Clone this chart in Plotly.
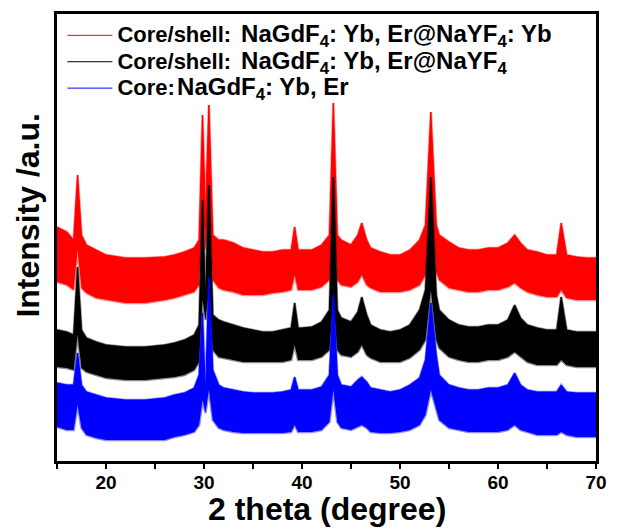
import plotly.graph_objects as go

# 2-theta sample positions (degree)
two_theta = [15, 16, 16.7, 17.1, 17.5, 18, 19, 20, 22, 24, 26, 27, 28, 29, 29.5, 29.85, 30.15, 30.5, 30.9,
             31.5, 32, 33, 34, 35, 36, 37, 38, 38.9, 39.25, 39.6, 40, 41, 42, 42.8, 43.2, 43.6, 44, 45,
             45.7, 46.1, 46.6, 47, 48, 49, 50, 51, 52, 52.6, 53.15, 53.7, 54, 55, 56, 57, 58, 59, 60, 61,
             61.7, 62.3, 63, 64, 65, 66, 66.45, 67, 68, 69, 70]

# Core/shell NaGdF4:Yb,Er@NaYF4:Yb (red) - upper / lower edge of noisy pattern (a.u.)
red_upper = [234, 229, 221, 286, 226, 216, 211, 206, 203, 203, 204, 206, 209, 213, 221, 346, 246, 356, 226,
             221, 221, 218, 213, 211, 209, 209, 211, 211, 234, 211, 211, 211, 216, 226, 358, 226, 221, 216,
             226, 238, 221, 213, 209, 206, 206, 211, 221, 236, 349, 236, 226, 219, 213, 211, 211, 213, 213, 218,
             226, 218, 211, 209, 206, 206, 238, 206, 204, 203, 203]
red_lower = [179, 176, 171, 211, 173, 168, 163, 161, 158, 158, 161, 163, 166, 169, 176, 261, 211, 261, 181,
             173, 171, 169, 166, 166, 166, 168, 169, 171, 186, 171, 171, 171, 174, 181, 261, 181, 176, 174,
             179, 186, 176, 173, 169, 169, 169, 171, 176, 186, 261, 189, 181, 173, 171, 169, 169, 171, 171, 174,
             178, 173, 169, 166, 164, 164, 171, 163, 161, 161, 161]

# Core/shell NaGdF4:Yb,Er@NaYF4 (black)
black_upper = [131, 129, 126, 194, 131, 123, 119, 116, 114, 114, 116, 118, 121, 126, 136, 261, 161, 276, 146,
               141, 139, 136, 133, 131, 129, 129, 131, 133, 158, 133, 133, 134, 139, 151, 284, 151, 143, 139,
               149, 164, 146, 136, 131, 129, 131, 136, 151, 171, 284, 166, 151, 141, 136, 134, 134, 136, 136, 141,
               156, 143, 136, 133, 131, 131, 164, 131, 129, 129, 129]
black_lower = [94, 93, 91, 126, 93, 89, 86, 83, 81, 81, 83, 84, 86, 91, 99, 161, 141, 171, 111,
               104, 103, 101, 99, 99, 99, 99, 99, 101, 116, 101, 101, 101, 104, 111, 161, 111, 106, 104,
               109, 116, 106, 103, 99, 99, 99, 103, 111, 121, 171, 121, 113, 104, 101, 99, 99, 101, 101, 104,
               109, 104, 99, 96, 96, 96, 101, 96, 94, 94, 94]

# Core NaGdF4:Yb,Er (blue)
blue_upper = [78, 76, 76, 108, 76, 69, 66, 63, 61, 61, 63, 66, 68, 73, 86, 148, 66, 184, 91,
              76, 73, 71, 69, 68, 68, 68, 69, 71, 84, 71, 71, 71, 74, 86, 166, 86, 76, 74,
              81, 84, 79, 73, 71, 69, 71, 76, 83, 101, 158, 106, 86, 76, 73, 71, 71, 73, 73, 76,
              88, 76, 71, 69, 69, 69, 76, 69, 68, 68, 68]
blue_lower = [34, 31, 31, 56, 33, 26, 23, 21, 21, 21, 21, 24, 26, 29, 36, 61, 48, 71, 41,
              33, 31, 29, 28, 28, 28, 28, 28, 29, 36, 29, 29, 29, 31, 39, 71, 39, 33, 31,
              34, 36, 33, 29, 28, 28, 29, 31, 36, 46, 71, 51, 41, 33, 31, 29, 29, 29, 29, 31,
              36, 31, 29, 26, 26, 26, 29, 26, 24, 24, 24]

legend_names = [
    '<span style="font-size:22px"><b>Core/shell:</b></span>  <span style="font-size:24px"><b>NaGdF<sub>4</sub>: Yb, Er@NaYF<sub>4</sub>: Yb</b></span>',
    '<span style="font-size:22px"><b>Core/shell:</b></span>  <span style="font-size:24px"><b>NaGdF<sub>4</sub>: Yb, Er@NaYF<sub>4</sub></b></span>',
    '<span style="font-size:22px"><b>Core:</b></span><span style="font-size:8px"> </span><span style="font-size:24px"><b>NaGdF<sub>4</sub>: Yb, Er</b></span>',
]
colors = ['#FF0000', '#000000', '#0000FF']
edge_colors = ['rgba(255,0,0,0.45)', 'rgba(0,0,0,0.45)', 'rgba(0,0,255,0.45)']
uppers = [red_upper, black_upper, blue_upper]
lowers = [red_lower, black_lower, blue_lower]

x_ticks = [15, 20, 25, 30, 35, 40, 45, 50, 55, 60, 65, 70]
x_ticktext = ['', '20', '', '30', '', '40', '', '50', '', '60', '', '70']

fig = go.Figure()
for up, lo, c, ec, name in zip(uppers, lowers, colors, edge_colors, legend_names):
    fig.add_trace(go.Scatter(
        x=two_theta + two_theta[::-1], y=up + lo[::-1],
        fill='toself', fillcolor=c, mode='lines', line=dict(color=ec, width=2.5),
        showlegend=False, hoverinfo='skip'))
    fig.add_trace(go.Scatter(
        x=two_theta, y=up, mode='lines', name=name,
        line=dict(color=c, width=1), hoverinfo='skip'))

fig.update_layout(
    width=618, height=529,
    margin=dict(l=57, r=11, t=14, b=68),
    paper_bgcolor='white', plot_bgcolor='white',
    font=dict(family='Liberation Sans, Arial, sans-serif', color='black'),
    showlegend=True,
    legend=dict(x=0.01, y=0.993, xanchor='left', yanchor='top', bgcolor='rgba(0,0,0,0)',
                font=dict(size=18, color='black'), itemwidth=45, tracegroupgap=0,
                traceorder='normal'),
    xaxis=dict(range=[15, 70], tickvals=x_ticks, ticktext=x_ticktext, ticks='outside',
               ticklen=5, tickwidth=2, tickcolor='black', showline=True, linewidth=2.5,
               linecolor='black', mirror=True, showgrid=False, zeroline=False,
               ticklabelstandoff=-3,
               tickfont=dict(size=19, weight='bold')),
    yaxis=dict(range=[0, 447], showticklabels=False, ticks='', showline=True, linewidth=2.5,
               linecolor='black', mirror=True, showgrid=False, zeroline=False),
    annotations=[
        dict(text='<b>2 theta (degree)</b>', xref='paper', yref='paper', x=0.5, y=-0.108,
             xanchor='center', yanchor='middle', showarrow=False, font=dict(size=32)),
        dict(text='<b>Intensity /a.u.</b>', xref='paper', yref='paper', x=-0.053, y=0.55,
             xanchor='center', yanchor='middle', textangle=-90, showarrow=False, font=dict(size=32)),
    ],
)

fig.write_html('out.html')
